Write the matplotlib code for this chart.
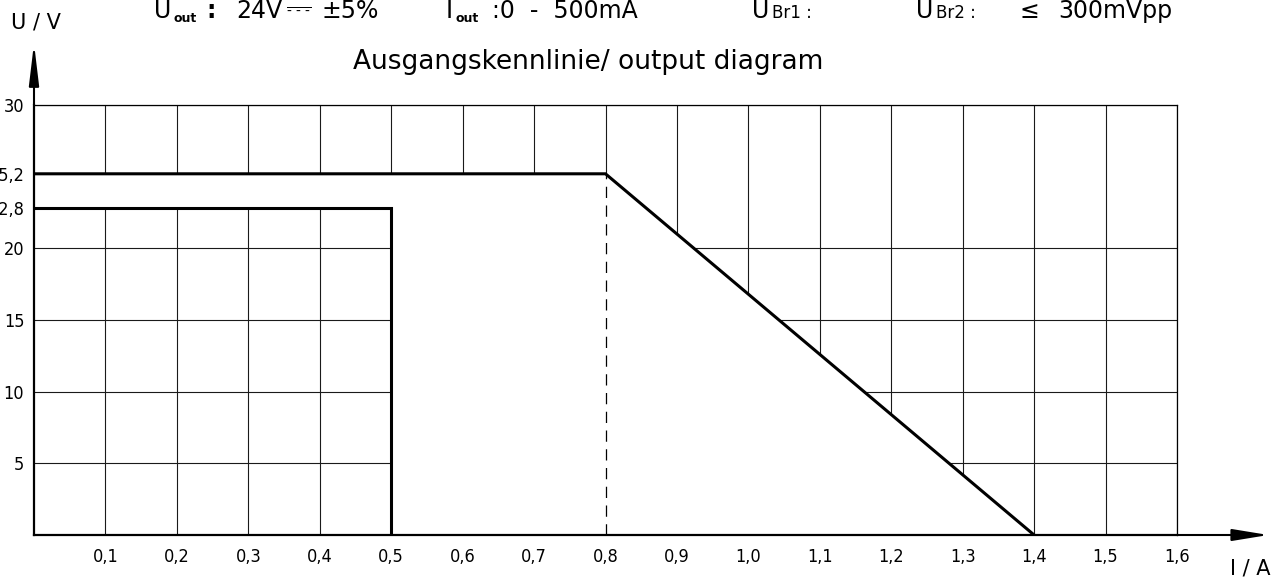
import matplotlib
matplotlib.use("Agg")
import matplotlib.pyplot as plt

# ---- data ----
current_ticks = [0.1, 0.2, 0.3, 0.4, 0.5, 0.6, 0.7, 0.8, 0.9, 1.0, 1.1, 1.2, 1.3, 1.4, 1.5, 1.6]
current_labels = ["0,1", "0,2", "0,3", "0,4", "0,5", "0,6", "0,7", "0,8",
                  "0,9", "1,0", "1,1", "1,2", "1,3", "1,4", "1,5", "1,6"]
voltage_grid = [5, 10, 15, 20, 30]
voltage_ticks = [5, 10, 15, 20, 22.8, 25.2, 30]
voltage_labels = ["5", "10", "15", "20", "22,8", "25,2", "30"]

# current-limit (foldback) characteristic
limit_I = [0.0, 0.8, 1.4]
limit_U = [25.2, 25.2, 0.0]
# rated output characteristic
rated_I = [0.0, 0.5, 0.5]
rated_U = [22.8, 22.8, 0.0]
# knee marker
knee_I = 0.8
knee_U = 25.2

W, H = 1278, 577
plt.rcParams["font.family"] = ["DejaVu Sans"]
fig = plt.figure(figsize=(W / 100, H / 100), dpi=100)


def fx(x):
    return x / W


def fy(y):
    return 1 - y / H


ax = fig.add_axes([fx(34), fy(535), (1177 - 34) / W, (535 - 105) / H])
ax.set_xlim(0, 1.6)
ax.set_ylim(0, 30)

# grid
ax.vlines(current_ticks, 0, 30, colors="#1a1a1a", lw=0.8, zorder=1)
ax.hlines(voltage_grid, 0, 1.6, colors="#1a1a1a", lw=0.8, zorder=1)

# white mask between the two characteristics
mask_I = list(limit_I) + list(reversed(rated_I))
mask_U = list(limit_U) + list(reversed(rated_U))
ax.fill(mask_I, mask_U, color="white", lw=0, zorder=1.5)

# characteristic curves
ax.plot(limit_I, limit_U, color="black", lw=2.2, zorder=3, solid_joinstyle="miter")
ax.plot(rated_I, rated_U, color="black", lw=2.2, zorder=3, solid_joinstyle="miter")
ax.vlines([knee_I], 0, knee_U, colors="black", lw=0.9, linestyles=(0, (9, 6)), zorder=2)

# spines
for s in ["left", "bottom"]:
    ax.spines[s].set_linewidth(1.6)
for s in ["top", "right"]:
    ax.spines[s].set_linewidth(0.9)

ax.set_xticks(current_ticks)
ax.set_xticklabels(current_labels)
ax.set_yticks(voltage_ticks)
ax.set_yticklabels(voltage_labels)
ax.tick_params(axis="both", length=0, labelsize=13)
ax.tick_params(axis="x", pad=9)
ax.tick_params(axis="y", pad=7)
for lab in ax.get_xticklabels() + ax.get_yticklabels():
    lab.set_fontstretch("condensed")

# axis arrows
ax.annotate("", xy=(1.728, 0), xytext=(1.6, 0), annotation_clip=False,
            arrowprops=dict(arrowstyle="-|>,head_length=2.2,head_width=0.36",
                            mutation_scale=10, lw=1.5, color="black",
                            shrinkA=0, shrinkB=0))
ax.annotate("", xy=(0, 34.3), xytext=(0, 30), annotation_clip=False,
            arrowprops=dict(arrowstyle="-|>,head_length=2.5,head_width=0.3",
                            mutation_scale=10, lw=1.5, color="black",
                            shrinkA=0, shrinkB=0))

# texts
fig.text(fx(11), fy(23), "U / V", fontsize=15, va="center", ha="left")
fig.text(fx(1230), fy(569), "I / A", fontsize=15, va="center", ha="left")
fig.text(fx(588), fy(62), "Ausgangskennlinie/ output diagram", fontsize=19,
         va="center", ha="center")

HB = 18  # header baseline (px from top)
hs = 17
fig.text(fx(154), fy(HB), "U", fontsize=hs, va="baseline", ha="left")
fig.text(fx(173), fy(HB + 4), "out", fontsize=9, fontweight="bold", va="baseline", ha="left")
fig.text(fx(206), fy(HB), ":", fontsize=hs, fontweight="bold", va="baseline", ha="left")
fig.text(fx(236), fy(HB), "24V", fontsize=hs, va="baseline", ha="left")
fig.text(fx(286), fy(HB - 1), r"$\overline{\text{- - -}}$", fontsize=10, va="baseline", ha="left")
fig.text(fx(322), fy(HB), "±5%", fontsize=hs, va="baseline", ha="left")

fig.text(fx(446), fy(HB), "I", fontsize=hs, va="baseline", ha="left")
fig.text(fx(456), fy(HB + 4), "out", fontsize=9, fontweight="bold", va="baseline", ha="left")
fig.text(fx(492), fy(HB), ":0  -  500mA", fontsize=hs, va="baseline", ha="left")

fig.text(fx(752), fy(HB), "U", fontsize=hs, va="baseline", ha="left")
fig.text(fx(772), fy(HB), "Br1 :", fontsize=12, va="baseline", ha="left")
fig.text(fx(916), fy(HB), "U", fontsize=hs, va="baseline", ha="left")
fig.text(fx(936), fy(HB), "Br2 :", fontsize=12, va="baseline", ha="left")
fig.text(fx(1020), fy(HB), "≤", fontsize=hs, va="baseline", ha="left")
fig.text(fx(1058), fy(HB), "300mVpp", fontsize=hs, va="baseline", ha="left")

fig.savefig("out.png", dpi=100)
